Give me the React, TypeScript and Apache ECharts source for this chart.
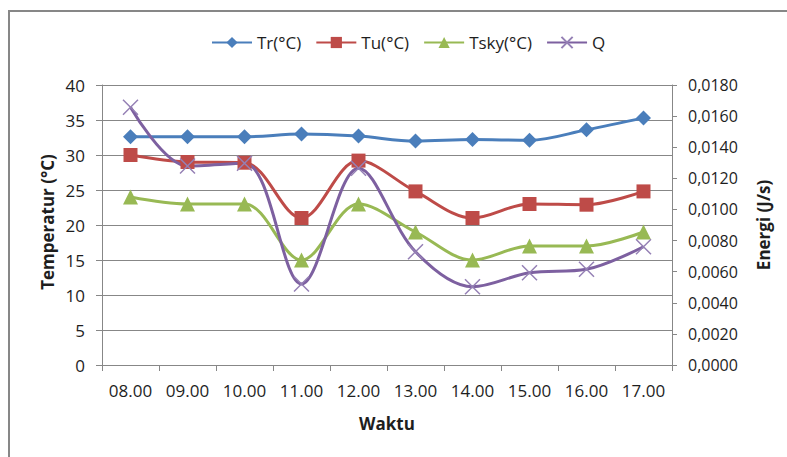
import React, { useEffect, useRef } from "react";
import * as echarts from "echarts";

const categories = ["08.00", "09.00", "10.00", "11.00", "12.00", "13.00", "14.00", "15.00", "16.00", "17.00"];
const trValues = [32.6, 32.6, 32.6, 33.0, 32.7, 32.0, 32.2, 32.1, 33.6, 35.3];
const tuValues = [30.0, 29.0, 28.9, 21.0, 29.2, 24.8, 21.0, 23.0, 22.9, 24.8];
const tskyValues = [24, 23, 23, 15, 23, 19, 15, 17, 17, 19];
const qValues = [0.01657, 0.01279, 0.01297, 0.00521, 0.01265, 0.00728, 0.00503, 0.00593, 0.00615, 0.0076];
const seriesNames = ["Tr(°C)", "Tu(°C)", "Tsky(°C)", "Q"];

const FONT = "'Open Sans', 'Noto Sans', sans-serif";
const TEXT = "#1e1e1e";
const GRAY = "#878787";

export default function App() {
  const ref = useRef<HTMLDivElement>(null);
  useEffect(() => {
    document.body.style.margin = "0";
    const chart = echarts.init(ref.current!, null, { renderer: "svg" });
    const smooth = 0.34;
    chart.setOption({
      animation: false,
      backgroundColor: "#ffffff",
      textStyle: { fontFamily: FONT },
      legend: {
        left: 206,
        top: 29,
        itemWidth: 40,
        itemHeight: 14,
        itemGap: 14,
        textStyle: { fontFamily: FONT, fontSize: 17, color: TEXT },
        data: seriesNames,
      },
      grid: { left: 102, top: 85, width: 570, height: 280, containLabel: false },
      xAxis: {
        type: "category",
        data: categories,
        boundaryGap: true,
        axisLine: { lineStyle: { color: GRAY, width: 1 } },
        axisTick: { show: true, length: 6, lineStyle: { color: GRAY } },
        axisLabel: { fontFamily: FONT, fontSize: 17, color: TEXT, margin: 17 },
        splitLine: { show: false },
      },
      yAxis: [
        {
          type: "value",
          min: 0,
          max: 40,
          interval: 5,
          axisLine: { show: true, lineStyle: { color: GRAY, width: 1 } },
          axisTick: { show: true, length: 6, lineStyle: { color: GRAY } },
          axisLabel: { fontFamily: FONT, fontSize: 17, color: TEXT, margin: 17 },
          splitLine: { show: true, lineStyle: { color: GRAY, width: 1 } },
        },
        {
          type: "value",
          min: 0,
          max: 0.018,
          interval: 0.002,
          position: "right",
          axisLine: { show: true, lineStyle: { color: GRAY, width: 1 } },
          axisTick: { show: true, length: 5, lineStyle: { color: GRAY } },
          axisLabel: {
            fontFamily: FONT,
            fontSize: 16,
            color: TEXT,
            margin: 16,
            formatter: (v: number) => v.toFixed(4).replace(".", ","),
          },
          splitLine: { show: false },
        },
      ],
      graphic: [
        {
          type: "rect",
          shape: { x: 9, y: 11, width: 1000, height: 1000 },
          style: { fill: "none", stroke: GRAY, lineWidth: 2 },
          silent: true,
        },
        {
          type: "text",
          x: 47,
          y: 222,
          rotation: Math.PI / 2,
          style: {
            text: "Temperatur (°C)",
            font: `bold 17px ${FONT}`,
            fill: TEXT,
            align: "center",
            verticalAlign: "middle",
          },
        },
        {
          type: "text",
          x: 763,
          y: 225,
          rotation: Math.PI / 2,
          style: {
            text: "Energi (J/s)",
            font: `bold 17px ${FONT}`,
            fill: TEXT,
            align: "center",
            verticalAlign: "middle",
          },
        },
        {
          type: "text",
          x: 387,
          y: 423,
          style: {
            text: "Waktu",
            font: `bold 17px ${FONT}`,
            fill: TEXT,
            align: "center",
            verticalAlign: "middle",
          },
        },
      ],
      series: [
        {
          name: seriesNames[0],
          type: "line",
          data: trValues,
          smooth,
          symbol: "diamond",
          symbolSize: 15,
          lineStyle: { color: "#4A7EBB", width: 3 },
          itemStyle: { color: "#4A7EBB" },
        },
        {
          name: seriesNames[1],
          type: "line",
          data: tuValues,
          smooth,
          symbol: "rect",
          symbolSize: 14,
          lineStyle: { color: "#BE4B48", width: 3 },
          itemStyle: { color: "#BE4B48" },
        },
        {
          name: seriesNames[2],
          type: "line",
          data: tskyValues,
          smooth,
          symbol: "triangle",
          symbolSize: 15,
          lineStyle: { color: "#98B954", width: 3 },
          itemStyle: { color: "#98B954" },
        },
        {
          name: seriesNames[3],
          type: "line",
          yAxisIndex: 1,
          data: qValues,
          smooth,
          symbol: "path://M0,0L10,10M10,0L0,10",
          symbolSize: 15,
          lineStyle: { color: "#7D60A0", width: 3 },
          itemStyle: { color: "#7D60A0", borderColor: "#9580B5", borderWidth: 1.5 },
        },
      ],
    });
    return () => chart.dispose();
  }, []);
  return <div ref={ref} style={{ width: 787, height: 457, overflow: "hidden" }} />;
}
